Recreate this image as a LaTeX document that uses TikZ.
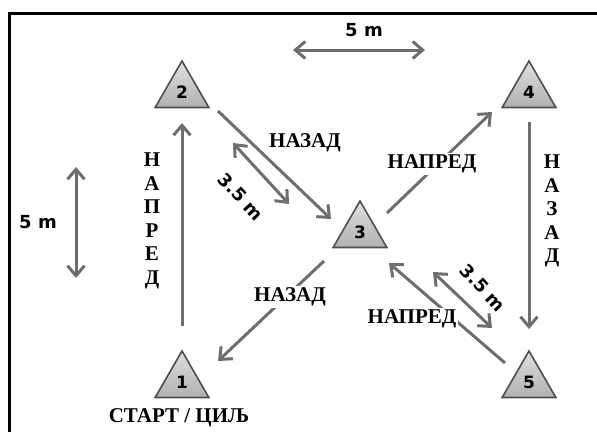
\documentclass[tikz,border=0pt]{standalone}
\usepackage{fontspec}
\setmainfont{Liberation Serif}
\newfontfamily\numfont{DejaVu Sans}
\usetikzlibrary{arrows.meta, positioning, shapes.geometric, calc}
\definecolor{trackgray}{HTML}{6E6E6E}
\definecolor{conerim}{HTML}{4E4E4E}
\definecolor{conetop}{HTML}{E0E0E0}
\definecolor{conebot}{HTML}{B0B0B0}

\begin{document}
\begin{tikzpicture}[x=1pt, y=-1pt, >={Straight Barb[length=10pt,width=17pt]}, on grid, line width=3pt]
      \tikzstyle{cone}=[regular polygon, regular polygon sides=3, minimum size=62pt, inner sep=0pt, draw=conerim, line width=1.6pt, top color=conetop, bottom color=conebot, font=\numfont\bfseries\fontsize{17}{17}\selectfont]
      \tikzstyle{run}=[->, draw=trackgray]
      \tikzstyle{span}=[<->, draw=trackgray]
      \tikzstyle{word}=[font=\bfseries\fontsize{21}{23.5}\selectfont, inner sep=1pt]
      \tikzstyle{gapword}=[word, fill=white, inner sep=2pt]
      \tikzstyle{dist}=[font=\numfont\bfseries\fontsize{18}{18}\selectfont, inner sep=0pt]
      \useasboundingbox (0,0) rectangle (597,432);
      % frame
      \draw[line width=3pt] (9,432) -- (9,13) -- (597,13);
      % cones
      \node[cone] (T3) at (360,232) {3};
      \node[cone] (T2) [above left=140pt and 178pt of T3] {2};
      \node[cone] (T4) [above right=140pt and 169pt of T3] {4};
      \node[cone] (T1) [below left=150pt and 178pt of T3] {1};
      \node[cone] (T5) [below right=150pt and 169pt of T3] {5};
      % course
      \path ($(T1)+(0,-56)$) edge[run] ($(T2)+(0,31)$);
      \path ($(T2)+(36,19)$) edge[run] ($(T3)+(-29,-13)$);
      \path ($(T3)+(27,-19)$) edge[run] ($(T4)+(-37,20)$);
      \path ($(T4)+(0,30)$) edge[run] ($(T5)+(0,-53)$);
      \path ($(T5)+(-24,-19)$) edge[run] ($(T3)+(29,31)$);
      \path ($(T3)+(-36,29)$) edge[run] ($(T1)+(36,-21)$);
      % distances
      \coordinate (topL) at (293,50);
      \coordinate (topR) at (425,50);
      \coordinate (sideT) at (76,167);
      \coordinate (sideB) at (76,278);
      \coordinate (diagA) at (233,143);
      \coordinate (diagB) at (289,204);
      \coordinate (diagC) at (433,272);
      \coordinate (diagD) at (492,328);
      \path (topL) edge[span] (topR);
      \path (sideT) edge[span] (sideB);
      \path (diagA) edge[span] (diagB);
      \path (diagC) edge[span] (diagD);
      \node[dist] (wtop) at (364,30) {5 m};
      \node[dist] (wside) at (38,222) {5 m};
      \node[dist, rotate=-47] (wdiagA) at (241,197) {3.5 m};
      \node[dist, rotate=-47] (wdiagB) at (483,288) {3.5 m};
      % labels
      \node[word] (back23) at (305,143) {НАЗАД};
      \node[gapword] (fwd34) at (432,164) {НАПРЕД};
      \node[gapword] (back31) at (290,297) {НАЗАД};
      \node[gapword] (fwd53) at (412,319) {НАПРЕД};
      \node[word, align=center] (fwd12) at (152,221) {Н\\А\\П\\Р\\Е\\Д};
      \node[word, align=center] (back45) at (552,211) {Н\\А\\З\\А\\Д};
      \node[word] (start) at (179,418) {СТАРТ / ЦИЉ};
    \end{tikzpicture}
\end{document}
